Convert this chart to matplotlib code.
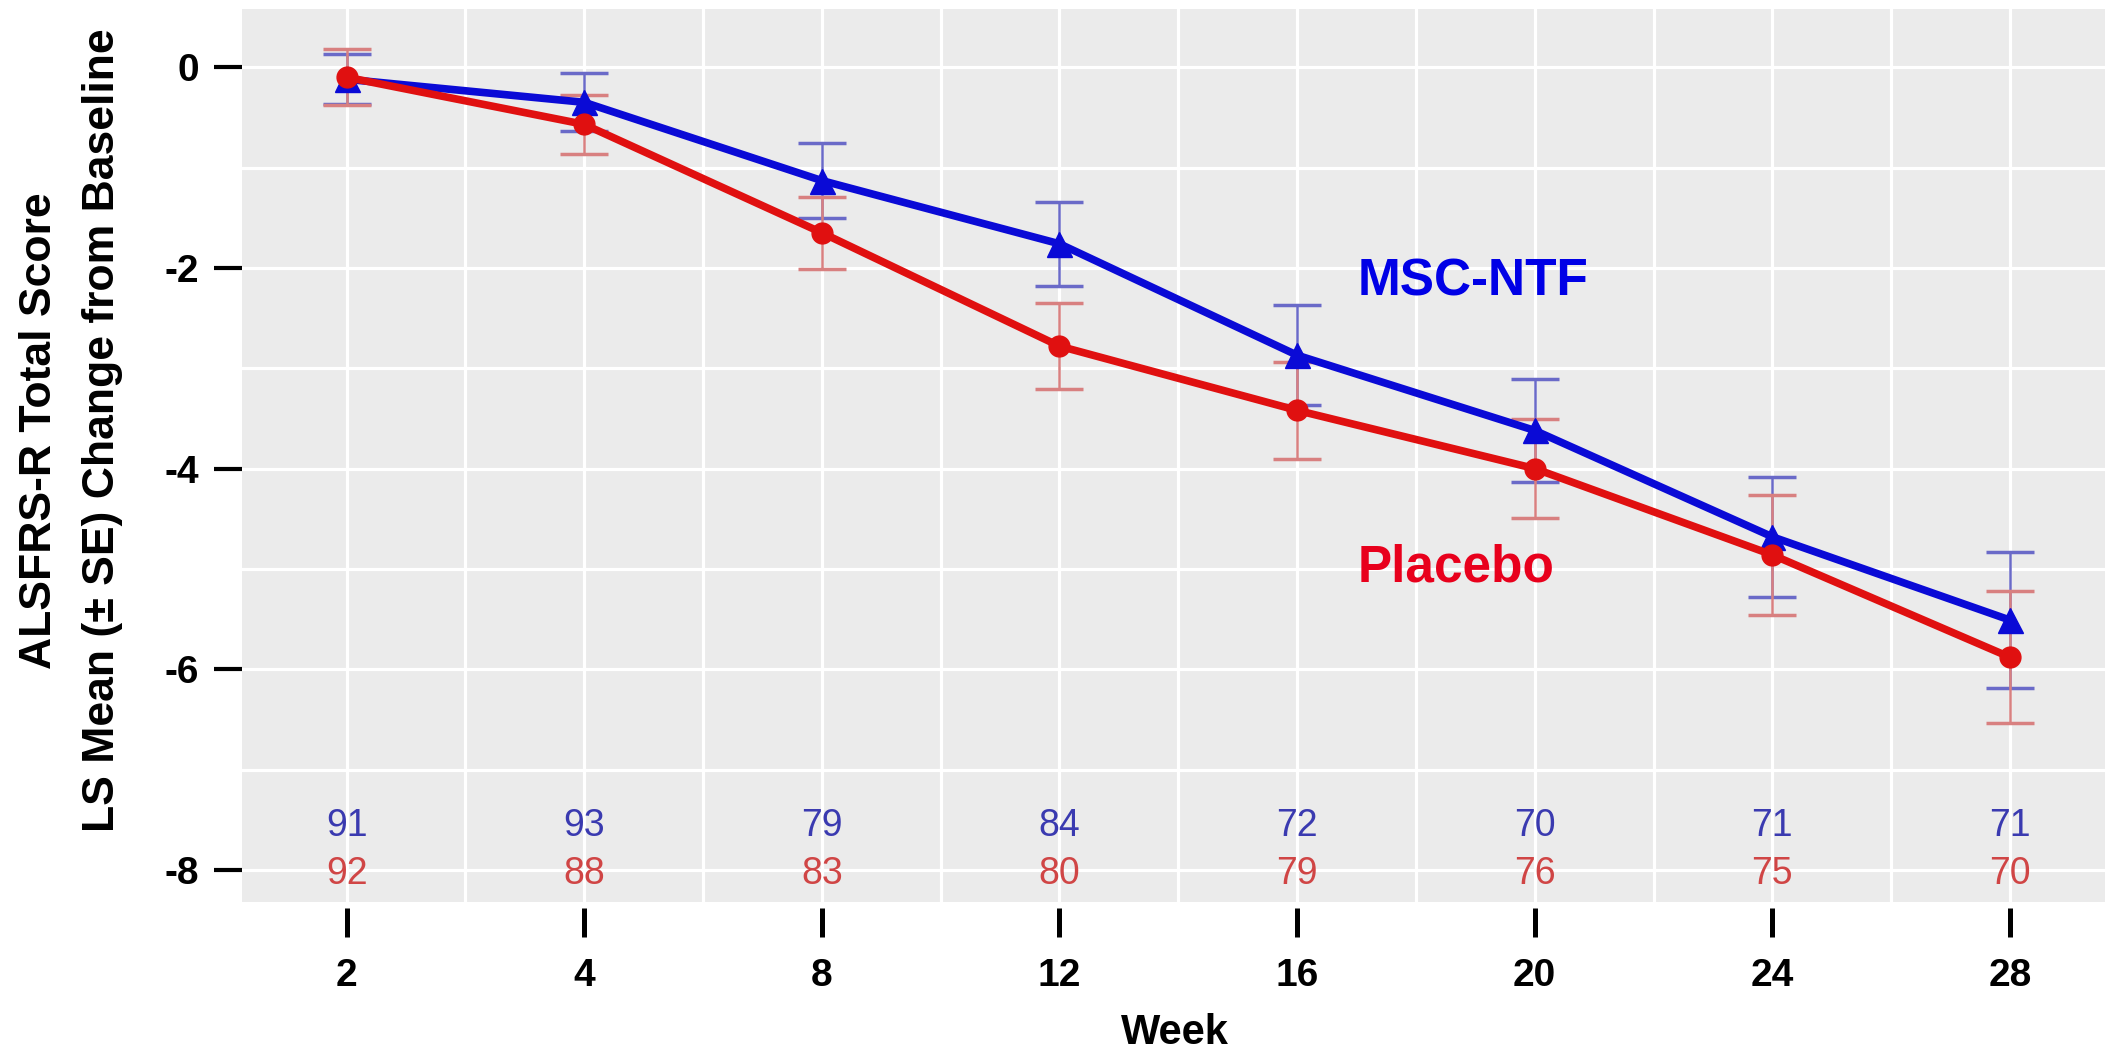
import numpy as np
import matplotlib.pyplot as plt

# datos
semanas = ['2', '4', '8', '12', '16', '20', '24', '28']
msc_media = [-0.12, -0.35, -1.13, -1.76, -2.87, -3.62, -4.68, -5.51]
msc_se = [0.25, 0.29, 0.37, 0.42, 0.50, 0.51, 0.60, 0.68]
pbo_media = [-0.10, -0.57, -1.65, -2.78, -3.42, -4.00, -4.86, -5.88]
pbo_se = [0.28, 0.29, 0.36, 0.43, 0.48, 0.49, 0.60, 0.66]
msc_n = [91, 93, 79, 84, 72, 70, 71, 71]
pbo_n = [92, 88, 83, 80, 79, 76, 75, 70]
y_ticks = [0, -2, -4, -6, -8]

plt.rcParams['font.family'] = ['Liberation Sans', 'DejaVu Sans']

fig = plt.figure(figsize=(21.05, 10.6), dpi=100)
ax = fig.add_axes([0.115, 0.149, 0.885, 0.8425])
ax.set_facecolor('#EBEBEB')

# ejes sin bordes; el eje x un poco separado del panel
for s in ax.spines.values():
    s.set_visible(False)
ax.spines['bottom'].set_position(('outward', 4.5))

x = np.arange(len(semanas))

# barras de error (debajo de las lineas)
ax.errorbar(x, msc_media, yerr=msc_se, fmt='none', ecolor='#6A6AC8',
            elinewidth=1.8, capsize=17, capthick=2.5, zorder=2)
ax.errorbar(x, pbo_media, yerr=pbo_se, fmt='none', ecolor='#D88080',
            elinewidth=1.8, capsize=17, capthick=2.5, zorder=2)

# lineas
ax.plot(x, msc_media, color='#0A0AD6', linewidth=5.5, marker='^',
        markersize=18, zorder=3)
ax.plot(x, pbo_media, color='#E01010', linewidth=5.5, marker='o',
        markersize=15, zorder=4)

# numero de pacientes
fuente_n = ['Liberation Sans Narrow', 'Liberation Sans']
for i in range(len(semanas)):
    ax.text(x[i], -7.56, str(msc_n[i]), color='#3A3AB0', fontsize=27,
            family=fuente_n, ha='center', va='center', zorder=5)
    ax.text(x[i], -8.04, str(pbo_n[i]), color='#D04545', fontsize=27,
            family=fuente_n, ha='center', va='center', zorder=5)

ax.text(4.255, -2.14, 'MSC-NTF', color='#0000E6', fontsize=37,
        fontweight='bold', ha='left', va='center')
ax.text(4.255, -4.99, 'Placebo', color='#E8001C', fontsize=37,
        fontweight='bold', ha='left', va='center')

ax.set_xlim(-0.44, 7.40)
ax.set_ylim(-8.32, 0.58)

# rejilla
ax.set_xticks(x)
ax.set_xticks(x[:-1] + 0.5, minor=True)
ax.set_yticks(y_ticks)
ax.set_yticks([-1, -3, -5, -7], minor=True)
ax.grid(True, which='both', color='white', linewidth=2.3)
ax.set_axisbelow(True)

ax.set_xticklabels(semanas, fontsize=28, fontweight='bold')
ax.set_yticklabels([str(v) for v in y_ticks], fontsize=28, fontweight='bold')

ax.tick_params(axis='x', which='major', length=21, width=3.6, pad=15,
               color='black')
ax.tick_params(axis='y', which='major', length=20, width=3, pad=11,
               color='black')
ax.tick_params(which='minor', length=0)

# etiquetas de ejes
fig.text(0.019, 0.594, 'ALSFRS-R Total Score', rotation=90, fontsize=32,
         fontweight='bold', ha='center', va='center')
fig.text(0.0485, 0.594, 'LS Mean (± SE) Change from Baseline', rotation=90,
         fontsize=32, fontweight='bold', ha='center', va='center')
fig.text(0.558, 0.025, 'Week', fontsize=30, fontweight='bold',
         ha='center', va='center')

plt.savefig('out.png', dpi=100)
plt.close()
